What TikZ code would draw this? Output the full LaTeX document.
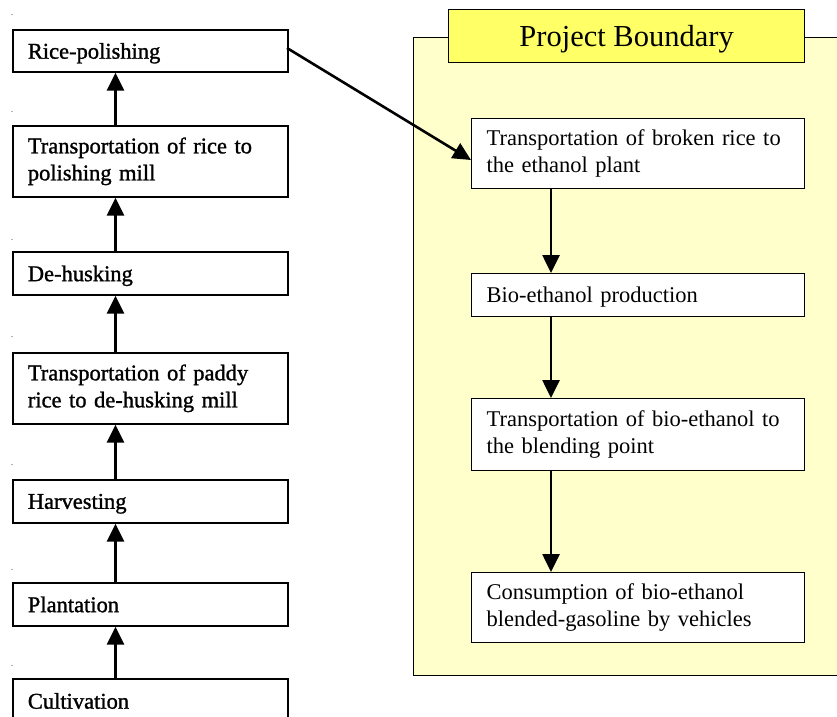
\documentclass[tikz,border=0pt]{standalone}
\usepackage{fontspec}
\setmainfont{Liberation Serif}
\newfontfamily\heavyfont[FakeBold=1.2]{Liberation Serif}
\usetikzlibrary{arrows.meta}
\definecolor{paleyellow}{HTML}{FFFFCC}
\definecolor{titleyellow}{HTML}{FFFF66}
\begin{document}
\begin{tikzpicture}[x=1pt,y=-1pt,
  box/.style={draw=black, line width=1.2pt, fill=white, anchor=north west,
    inner xsep=15pt, inner ysep=0pt, align=left,
    font=\fontsize{22.5}{27}\selectfont},
  oneline/.style={text depth=0pt},
  lbox/.style={box, line width=1.7pt, minimum width=275pt, text width=245pt,
    font=\heavyfont\fontsize{22.5}{27}\selectfont},
  rbox/.style={box, minimum width=333pt, text width=303pt},
  flow/.style={line width=2.6pt, -{Triangle[width=17pt,length=18pt]}},
  tick/.style={font=\fontsize{8}{8}\selectfont, inner sep=0pt}
]
\useasboundingbox (0,0) rectangle (837,716);
\clip (0,0) rectangle (837,716);
% project boundary
\node[draw=black, line width=1pt, fill=paleyellow, anchor=north west,
  minimum width=440pt, minimum height=638pt, inner sep=0pt] (pb) at (413,37) {};
\node[draw=black, line width=1.2pt, fill=titleyellow, anchor=north west,
  minimum width=356pt, minimum height=53pt, inner sep=0pt, text depth=0pt,
  font=\fontsize{30.5}{34}\selectfont] (pbt) at (448,9) {Project Boundary};
% left chain
\node[lbox, oneline, minimum height=42pt] (rp) at (12,29) {Rice-polishing};
\node[lbox, minimum height=71pt] (trp) at (12,125) {Transportation of rice to\\polishing mill};
\node[lbox, oneline, minimum height=43pt] (dh) at (12,251) {De-husking};
\node[lbox, minimum height=71pt] (tpr) at (12,352) {Transportation of paddy\\rice to de-husking mill};
\node[lbox, oneline, minimum height=43pt] (hv) at (12,479) {Harvesting};
\node[lbox, oneline, minimum height=43pt] (pl) at (12,582) {Plantation};
\node[lbox, oneline, minimum height=44pt] (cu) at (12,678) {Cultivation};
% right chain
\node[rbox, minimum height=70pt] (tbr) at (471,118) {Transportation of broken rice to\\the ethanol plant};
\node[rbox, oneline, minimum height=43pt] (bep) at (471,273) {Bio-ethanol production};
\node[rbox, minimum height=72pt] (tbe) at (471,398) {Transportation of bio-ethanol to\\the blending point};
\node[rbox, minimum height=70pt] (cbg) at (471,572) {Consumption of bio-ethanol\\blended-gasoline by vehicles};
% arrows left
\foreach \a/\b in {cu/pl, pl/hv, hv/tpr, tpr/dh, dh/trp, trp/rp}
  \draw[flow] (\a.north west) ++(103.5,0) coordinate (s) (\b.south west) ++(103.5,0) coordinate (e)
    (s) -- (e);
% arrows right
\foreach \a/\b in {tbr/bep, bep/tbe, tbe/cbg}
  \draw[flow] (\a.south west) ++(80,0) coordinate (s) (\b.north west) ++(80,0) coordinate (e)
    (s) -- (e);
% diagonal
\coordinate (dstart) at (287,48);
\coordinate (dend) at (471,160);
\draw[flow] (dstart) -- (dend);
% tiny dots
\foreach \yy [count=\i] in {15,112,240,337,465,570,666}
  \node[tick] (dot\i) at (12,\yy) {.};
\end{tikzpicture}
\end{document}
